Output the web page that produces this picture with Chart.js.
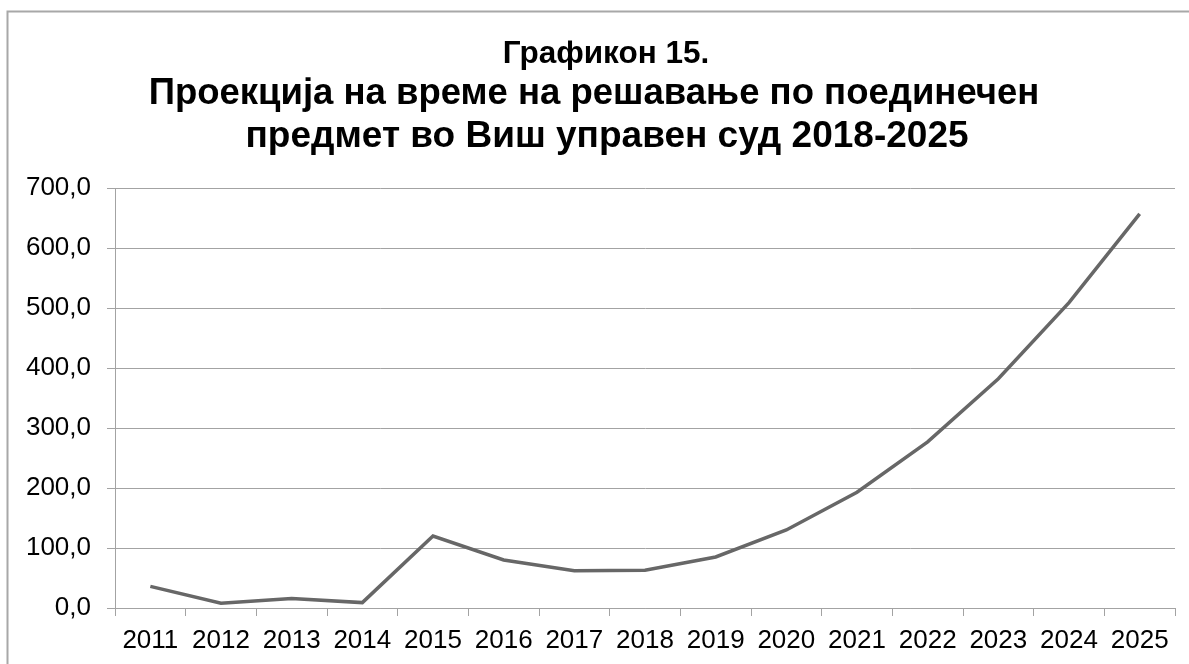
<!DOCTYPE html>
<html>
<head>
<meta charset="utf-8">
<script src="https://cdn.jsdelivr.net/npm/chart.js@4/dist/chart.umd.min.js"></script>
<style>
  html, body { margin: 0; padding: 0; background: #ffffff; }
  #wrap { width: 1189px; height: 664px; position: relative; }
</style>
</head>
<body>
<div id="wrap"><canvas id="c" width="1189" height="664"></canvas></div>
<script>
const titleLines = ['Графикон 15.', 'Проекција на време на решавање по поединечен', 'предмет во Виш управен суд 2018-2025'];
const categories = ['2011','2012','2013','2014','2015','2016','2017','2018','2019','2020','2021','2022','2023','2024','2025'];
const values = [36, 8, 16, 9, 120, 80, 62, 63, 85, 130, 193, 277, 382, 509, 657];
const yTickLabels = ['0,0','100,0','200,0','300,0','400,0','500,0','600,0','700,0'];

const FONT = "'Liberation Sans', Arial, sans-serif";
const GRID = '#a3a3a3';

const framePlugin = {
  id: 'frame',
  beforeDraw(chart) {
    const ctx = chart.ctx;
    ctx.save();
    ctx.fillStyle = '#ffffff';
    ctx.fillRect(0, 0, chart.width, chart.height);
    ctx.strokeStyle = '#a8a8a8';
    ctx.lineWidth = 2;
    ctx.strokeRect(7.5, 11.5, chart.width + 20, chart.height + 20);
    ctx.restore();
  }
};

// title drawn as canvas text; layout of each line
const titleLayout = [
  { size: 31.5, cx: 606, baseline: 63 },
  { size: 36.5, cx: 594, baseline: 104 },
  { size: 37, cx: 607, baseline: 147 }
];
const titlePlugin = {
  id: 'multiTitle',
  afterDraw(chart) {
    const ctx = chart.ctx;
    ctx.save();
    ctx.fillStyle = '#000000';
    ctx.textAlign = 'center';
    ctx.textBaseline = 'alphabetic';
    titleLines.forEach((t, i) => {
      const l = titleLayout[i];
      ctx.font = 'bold ' + l.size + 'px ' + FONT;
      ctx.fillText(t, l.cx, l.baseline);
    });
    ctx.restore();
  }
};

new Chart(document.getElementById('c'), {
  type: 'line',
  data: {
    labels: categories,
    datasets: [{
      data: values,
      borderColor: '#676767',
      borderWidth: 3.5,
      pointRadius: 0,
      pointHoverRadius: 0,
      tension: 0,
      fill: false
    }]
  },
  options: {
    responsive: false,
    animation: false,
    devicePixelRatio: 1,
    layout: { padding: { left: 0, right: 14, top: 188, bottom: 0 } },
    plugins: {
      legend: { display: false },
      tooltip: { enabled: false },
      title: { display: false }
    },
    scales: {
      x: {
        type: 'category',
        offset: true,
        grid: {
          display: true,
          offset: true,
          drawOnChartArea: false,
          drawTicks: true,
          tickLength: 8,
          color: GRID,
          lineWidth: 1
        },
        border: { display: true, color: GRID, width: 1 },
        ticks: {
          color: '#000000',
          font: { family: FONT, size: 26 },
          padding: 9,
          maxRotation: 0,
          autoSkip: false
        },
        afterFit(scale) { scale.height = 56; }
      },
      y: {
        min: 0,
        max: 700,
        grid: {
          color: GRID,
          lineWidth: 1,
          tickLength: 8,
          drawTicks: true
        },
        border: { display: true, color: GRID, width: 1 },
        ticks: {
          stepSize: 100,
          color: '#000000',
          font: { family: FONT, size: 26 },
          padding: 16,
          callback(value, index) { return yTickLabels[index]; }
        },
        afterFit(scale) { scale.width = 115; }
      }
    }
  },
  plugins: [framePlugin, titlePlugin]
});
</script>
</body>
</html>
